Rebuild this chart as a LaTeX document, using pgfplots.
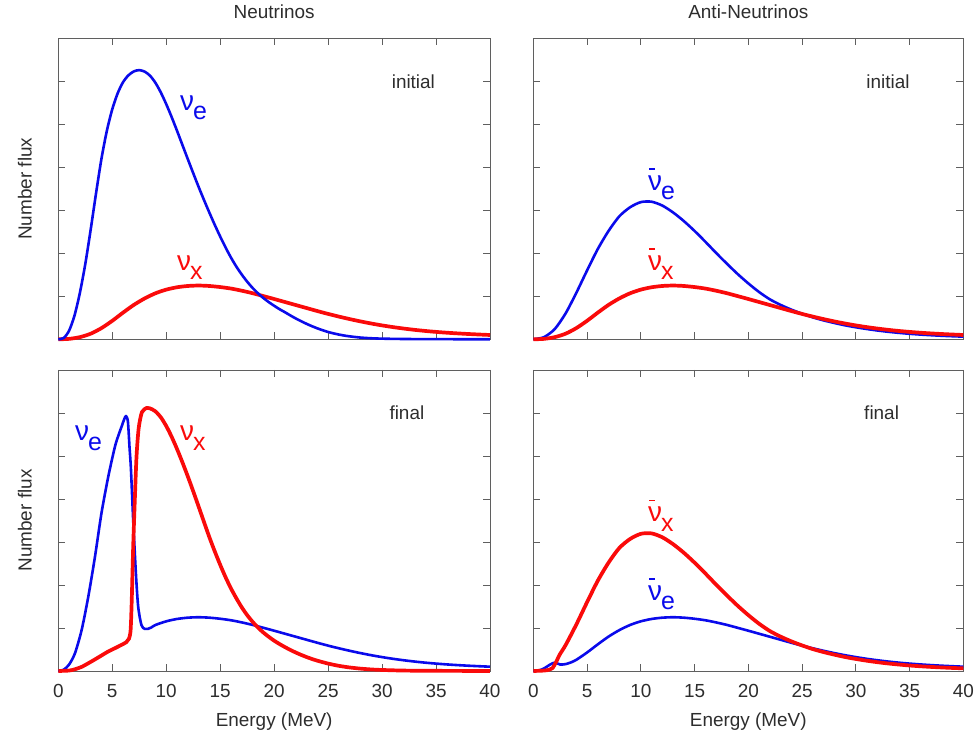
\documentclass[border=0pt]{standalone}
\usepackage{fontspec}
\setmainfont{Liberation Sans}
\usepackage{pgfplots}
\pgfplotsset{compat=1.18}
\usepackage{pgfplotstable}
\definecolor{nublue}{RGB}{10,10,235}
\definecolor{nured}{RGB}{250,10,10}
\definecolor{axgray}{RGB}{95,95,95}
\definecolor{txt}{RGB}{45,45,45}

\newcommand{\nul}[1]{{\fontsize{28}{30}\selectfont ν}\kern-1bp\raisebox{-9.5bp}{\fontsize{25}{27}\selectfont #1}}
\newcommand{\nubarl}[1]{\rlap{\hspace{1bp}\raisebox{20.5bp}{\rule{5.5bp}{1.4bp}}}\nul{#1}}

% initial nu_x (also initial anti-nu_x)
\pgfplotstableread{
E v
0 0
1 0.01
2 0.05
3 0.13
4 0.26
5 0.43
6 0.62
7 0.80
8 0.95
9 1.07
10 1.155
11 1.21
12 1.24
13 1.25
14 1.24
15 1.215
16 1.18
17 1.13
18 1.072
19 1.005
20 0.937
21 0.867
22 0.797
23 0.727
24 0.657
25 0.59
26 0.528
27 0.47
28 0.416
29 0.367
30 0.323
31 0.284
32 0.25
33 0.22
34 0.194
35 0.172
36 0.153
37 0.137
38 0.123
39 0.111
40 0.10
}\tabTLr

% initial nu_e
\pgfplotstableread{
E v
0 0
0.5 0.03
1.0 0.2
1.5 0.55
2.0 1.08
2.5 1.75
3.0 2.55
3.5 3.4
4.0 4.2
4.5 4.85
5.0 5.35
5.5 5.72
6.0 5.98
6.5 6.14
7.0 6.23
7.5 6.26
8.0 6.225
8.5 6.13
9.0 5.965
9.5 5.74
10.0 5.47
10.5 5.17
11.0 4.85
11.5 4.52
12.0 4.19
12.5 3.865
13.0 3.545
13.5 3.24
14.0 2.945
14.5 2.66
15.0 2.39
15.5 2.135
16.0 1.90
16.5 1.69
17.0 1.505
17.5 1.34
18.0 1.195
18.5 1.07
19.0 0.96
19.5 0.865
20.0 0.78
20.5 0.70
21.0 0.63
21.5 0.555
22.0 0.485
22.5 0.42
23.0 0.36
23.5 0.305
24.0 0.255
24.5 0.21
25.0 0.17
25.5 0.138
26.0 0.11
26.5 0.087
27 0.068
28 0.04
29 0.024
30 0.015
32 0.007
35 0.003
40 0.001
}\tabTLb

% initial anti-nu_e
\pgfplotstableread{
E v
0 0
1 0.05
2 0.24
3 0.6
4 1.08
5 1.6
6 2.1
7 2.52
8 2.86
9 3.07
10 3.19
11 3.2
12 3.11
13 2.95
14 2.75
15 2.52
16 2.27
17 2.01
18 1.76
19 1.52
20 1.30
21 1.10
22 0.93
23 0.80
24 0.69
25 0.595
26 0.51
27 0.44
28 0.38
29 0.325
30 0.28
31 0.24
32 0.205
33 0.175
34 0.15
35 0.128
36 0.11
37 0.095
38 0.082
39 0.071
40 0.062
}\tabTRb

% final nu_e
\pgfplotstableread{
E v
0 0
0.5 0.03
1.0 0.15
1.54 0.41
2.16 0.95
2.78 1.73
3.4 2.66
4.0 3.67
4.63 4.52
5.25 5.22
5.6 5.5
5.86 5.68
6.1 5.85
6.27 5.93
6.45 5.8
6.6 5.2
6.73 4.7
6.94 3.5
7.19 2.27
7.4 1.5
7.7 1.07
8.0 0.98
8.3 0.98
8.6 1.01
9 1.07
10 1.155
11 1.21
12 1.24
13 1.25
14 1.24
15 1.215
16 1.18
17 1.13
18 1.072
19 1.005
20 0.937
21 0.867
22 0.797
23 0.727
24 0.657
25 0.59
26 0.528
27 0.47
28 0.416
29 0.367
30 0.323
31 0.284
32 0.25
33 0.22
34 0.194
35 0.172
36 0.153
37 0.137
38 0.123
39 0.111
40 0.10
}\tabBLb

% final nu_x
\pgfplotstableread{
E v
0 0
1.0 0.01
1.54 0.04
2.2 0.1
2.78 0.18
3.4 0.27
4.0 0.36
4.6 0.45
5.25 0.53
5.8 0.6
6.3 0.67
6.55 0.75
6.7 0.95
6.8 1.6
6.94 2.9
7.1 4.05
7.25 5.0
7.45 5.65
7.75 6.02
8.2 6.12
8.5 6.108
9.0 6.038
9.5 5.90
10.0 5.698
10.5 5.448
11.0 5.163
11.5 4.853
12.0 4.525
12.5 4.18
13.0 3.825
13.5 3.465
14.0 3.11
14.5 2.78
15.0 2.47
15.5 2.18
16.0 1.92
16.5 1.69
17.0 1.48
17.5 1.30
18.0 1.145
18.5 1.01
19.0 0.895
19.5 0.795
20.0 0.705
20.5 0.627
21.0 0.556
21.5 0.49
22.0 0.43
22.5 0.375
23.0 0.325
23.5 0.28
24.0 0.24
24.5 0.205
25.0 0.173
25.5 0.145
26.0 0.12
26.5 0.10
27 0.082
28 0.055
29 0.036
30 0.024
32 0.01
35 0.004
40 0.001
}\tabBLr

% final anti-nu_x
\pgfplotstableread{
E v
0 0
1 0.01
1.5 0.03
1.8 0.07
2.1 0.2
2.5 0.4
3 0.6
4 1.08
5 1.6
6 2.1
7 2.52
8 2.86
9 3.07
10 3.19
11 3.2
12 3.11
13 2.95
14 2.75
15 2.52
16 2.27
17 2.01
18 1.76
19 1.52
20 1.30
21 1.10
22 0.93
23 0.80
24 0.69
25 0.595
26 0.51
27 0.44
28 0.38
29 0.325
30 0.28
31 0.24
32 0.205
33 0.175
34 0.15
35 0.128
36 0.11
37 0.095
38 0.082
39 0.071
40 0.062
}\tabBRr

% final anti-nu_e
\pgfplotstableread{
E v
0 0
0.5 0.01
1.0 0.06
1.5 0.14
1.9 0.19
2.2 0.18
2.5 0.15
3.0 0.16
3.5 0.2
4 0.26
5 0.43
6 0.62
7 0.80
8 0.95
9 1.07
10 1.155
11 1.21
12 1.24
13 1.25
14 1.24
15 1.215
16 1.18
17 1.13
18 1.072
19 1.005
20 0.937
21 0.867
22 0.797
23 0.727
24 0.657
25 0.59
26 0.528
27 0.47
28 0.416
29 0.367
30 0.323
31 0.284
32 0.25
33 0.22
34 0.194
35 0.172
36 0.153
37 0.137
38 0.123
39 0.111
40 0.10
}\tabBRb

\pgfplotsset{
  panel/.style={
    scale only axis, height=301bp,
    xmin=0, xmax=40, ymin=0, ymax=7,
    xtick={0,5,...,40}, ytick={0,...,7}, yticklabels={},
    tick align=inside, major tick length=7bp,
    axis line style={axgray, line width=0.9bp},
    every tick/.style={axgray, line width=0.9bp},
    tick label style={font=\fontsize{19}{22}\selectfont, text=txt},
    /pgf/number format/assume math mode=true,
    label style={font=\fontsize{19}{22}\selectfont, text=txt},
    title style={font=\fontsize{19}{22}\selectfont, text=txt, at={(axis description cs:0.5,1)}, anchor=base, yshift=14.3bp, inner sep=0pt},
    ylabel style={at={(axis description cs:-0.0616,0.5)}, anchor=base, inner sep=0pt},
    xlabel style={at={(axis description cs:0.5,0)}, anchor=base, yshift=-55.5bp, inner sep=0pt},
    xticklabel style={anchor=base, yshift=-26bp, inner sep=0pt},
    clip=false,
  },
  bl/.style={nublue, line width=2.6bp, smooth, tension=0.45, line join=round},
  rd/.style={nured, line width=3.7bp, smooth, tension=0.45, line join=round},
}
\tikzset{
  tag/.style={anchor=base, inner sep=0pt, text=txt, font=\fontsize{19}{22}\selectfont},
}

\begin{document}
\begin{tikzpicture}
\path[use as bounding box] (0bp,0bp) rectangle (979bp,738bp);

% top left
\begin{axis}[panel, at={(58.3bp,398.7bp)}, anchor=south west, width=431.7bp,
  xticklabels={}, title={Neutrinos}, ylabel={Number flux}]
\addplot[rd] table[x=E,y=v] {\tabTLr};
\addplot[bl] table[x=E,y=v] {\tabTLb};
\node[anchor=base west, inner sep=0pt, text=nublue] at (axis cs:11.27,5.33) {\nul{e}};
\node[anchor=base west, inner sep=0pt, text=nured] at (axis cs:10.99,1.61) {\nul{x}};
\node[tag] at (axis cs:32.9,5.84) {initial};
\end{axis}

% top right
\begin{axis}[panel, at={(533.3bp,398.7bp)}, anchor=south west, width=430bp,
  xticklabels={}, title={Anti-Neutrinos}]
\addplot[bl] table[x=E,y=v] {\tabTRb};
\addplot[rd] table[x=E,y=v] {\tabTLr};
\node[anchor=base west, inner sep=0pt, text=nublue] at (axis cs:10.67,3.47) {\nubarl{e}};
\node[anchor=base west, inner sep=0pt, text=nured] at (axis cs:10.67,1.61) {\nubarl{x}};
\node[tag] at (axis cs:33.0,5.84) {initial};
\end{axis}

% bottom left
\begin{axis}[panel, at={(58.3bp,67bp)}, anchor=south west, width=431.7bp,
  xlabel={Energy (MeV)}, ylabel={Number flux}]
\addplot[bl] table[x=E,y=v] {\tabBLb};
\addplot[rd] table[x=E,y=v] {\tabBLr};
\node[anchor=base west, inner sep=0pt, text=nublue] at (axis cs:1.55,5.36) {\nul{e}};
\node[anchor=base west, inner sep=0pt, text=nured] at (axis cs:11.27,5.36) {\nul{x}};
\node[tag] at (axis cs:32.3,5.84) {final};
\end{axis}

% bottom right
\begin{axis}[panel, at={(533.3bp,67bp)}, anchor=south west, width=430bp,
  xlabel={Energy (MeV)}]
\addplot[bl] table[x=E,y=v] {\tabBRb};
\addplot[rd] table[x=E,y=v] {\tabBRr};
\node[anchor=base west, inner sep=0pt, text=nured] at (axis cs:10.67,3.47) {\nubarl{x}};
\node[anchor=base west, inner sep=0pt, text=nublue] at (axis cs:10.67,1.65) {\nubarl{e}};
\node[tag] at (axis cs:32.4,5.84) {final};
\end{axis}
\end{tikzpicture}
\end{document}
